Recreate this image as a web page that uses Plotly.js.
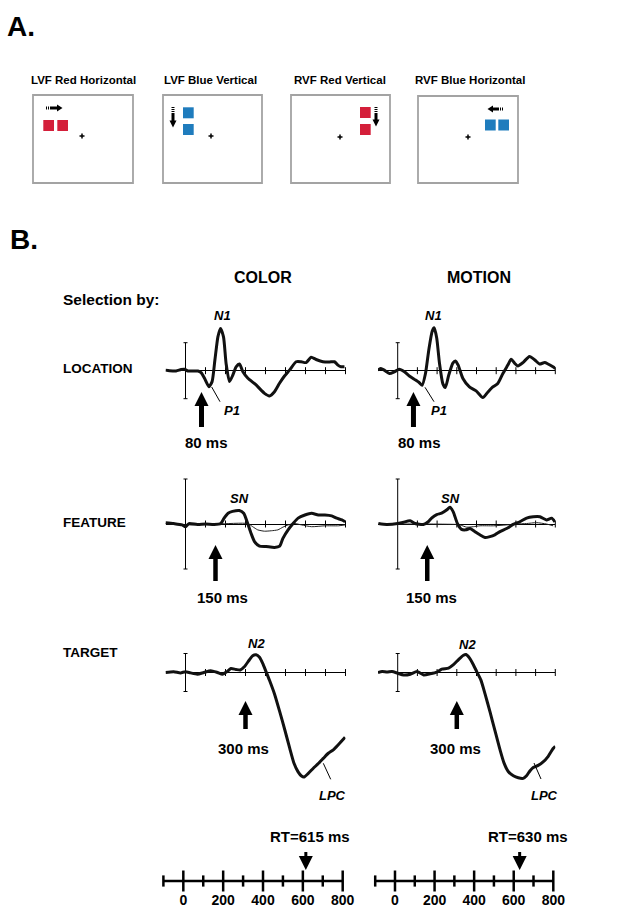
<!DOCTYPE html>
<html><head><meta charset="utf-8">
<script src="https://cdn.plot.ly/plotly-3.0.1.min.js"></script>
<style>html,body{margin:0;padding:0;background:#fff}</style>
</head><body><div id="chart" style="width:634px;height:910px"></div>
<script>
// ================= DATA =================
// ERP waveforms (time in ms, amplitude in calibration-bar units, negative plotted up)
const locColorT = [-100,-80,-47,-22,-5,12,37,62,78,95,117,133,147,162,175,190,203,220,237,253,270,287,312,353,395,420,445,470,495,520,553,578,603,628,653,687,720,745,762,778,795];
const locColorV = [-0.02,0,0.01,-0.04,-0.05,0.01,0.01,0.01,0.07,0.27,0.57,0.39,-0.38,-1.21,-1.51,-1.21,-0.26,0.39,0.15,-0.14,-0.24,0.04,0.27,0.51,0.81,0.90,0.75,0.45,0.19,-0.02,-0.32,-0.32,-0.29,-0.48,-0.40,-0.32,-0.31,-0.32,-0.20,-0.14,-0.14];
const locMotionT = [-100,-85,-68,-42,-17,8,34,59,85,110,124,141,158,175,185,198,212,229,242,259,280,293,307,331,364,398,432,458,483,508,534,559,576,593,610,636,669,695,720,746,763,788,800];
const locMotionV = [-0.02,-0.08,-0.02,0.10,0.04,-0.05,0.04,0.19,0.31,0.43,0.52,0.10,-0.75,-1.41,-1.53,-1.17,-0.27,0.46,0.60,0.16,-0.27,-0.35,-0.20,0.28,0.58,0.72,0.96,0.76,0.58,0.46,0.10,-0.20,-0.41,-0.27,-0.17,-0.29,-0.51,-0.39,-0.24,-0.29,-0.24,-0.14,-0.08];
const featColorT = [-100,-59,-17,0,17,59,101,143,176,193,213,235,269,291,311,328,345,370,403,445,471,487,513,538,563,597,630,664,697,731,756,782,798];
const featColorV = [-0.03,-0.01,0.02,0.06,-0.01,0.01,0,0.01,-0.01,-0.13,-0.24,-0.28,-0.30,-0.24,-0.01,0.21,0.39,0.49,0.50,0.52,0.49,0.32,0.13,-0.01,-0.13,-0.20,-0.24,-0.20,-0.20,-0.18,-0.13,-0.09,-0.05];
const featColorCtrlT = [-100,0,160,311,336,361,395,429,462,487,513,546,580,630,697,765,798];
const featColorCtrlV = [-0.01,0.02,0,-0.01,0.06,0.13,0.16,0.15,0.13,0.07,0.02,-0.01,0.02,0.06,0.04,0.04,0.02];
const featMotionT = [-98,-56,0,29,63,88,130,155,172,198,223,248,265,282,303,324,346,367,392,417,443,468,493,519,553,586,620,654,688,722,755,781,798];
const featMotionV = [-0.01,0.01,-0.01,-0.04,-0.07,-0.01,0.01,-0.05,-0.13,-0.21,-0.24,-0.31,-0.37,-0.27,-0.01,0.12,0.13,0.10,0.17,0.24,0.30,0.28,0.24,0.17,0.10,0.01,-0.05,-0.13,-0.16,-0.16,-0.09,-0.13,-0.05];
const featMotionCtrlT = [-98,0,147,299,316,350,384,417,485,553,603,654,705,755,789];
const featMotionCtrlV = [0,0,0,0.01,0.02,0.07,0.06,0.04,0.04,0.02,0,-0.01,-0.03,0,0.04];
const tgtColorT = [-100,-59,-25,0,25,59,92,126,160,185,207,227,252,274,294,319,336,353,370,386,403,420,445,470,496,521,543,563,580,593,613,638,664,689,714,739,764,798];
const tgtColorV = [0,-0.04,0.02,-0.04,0.02,0.09,0,-0.09,0,0.09,-0.04,-0.21,-0.16,-0.13,-0.30,-0.66,-0.88,-0.93,-0.80,-0.48,-0.04,0.41,1.13,2.02,3.00,3.98,4.79,5.23,5.45,5.50,5.32,5.05,4.79,4.52,4.25,4.07,3.80,3.41];
const tgtMotionT = [-100,-79,-54,-29,0,30,64,98,132,165,199,224,258,283,309,334,347,364,384,401,422,443,469,494,519,540,561,587,612,637,654,671,688,713,738,764,789,800];
const tgtMotionV = [0,-0.05,-0.02,-0.05,0.04,0.13,0.09,-0.05,0.13,0.07,-0.02,-0.18,-0.23,-0.41,-0.68,-0.91,-0.95,-0.77,-0.41,-0.05,0.39,1.11,2.09,3.07,4.05,4.77,5.21,5.43,5.54,5.57,5.43,5.18,5.00,4.89,4.71,4.41,4.00,3.88];

const conditions = ['COLOR', 'MOTION'];
const selections = ['LOCATION', 'FEATURE', 'TARGET'];
const onsetMs = [80, 150, 300];                 // arrow latency per row
const onsetLabels = ['80 ms', '150 ms', '300 ms'];
const calibHalf = [1, 1, 1];                     // calibration bar half-height per row
const erpTicks = [100, 200, 300, 400, 500, 600, 700, 800];
const rtMs = [615, 630];
const rtLabels = ['RT=615 ms', 'RT=630 ms'];
const timeMajor = [0, 200, 400, 600, 800];
const timeMinor = [-100, 100, 300, 500, 700];
const timeRange = [-100, 800];
const stimLabels = ['LVF Red Horizontal', 'LVF Blue Vertical', 'RVF Red Vertical', 'RVF Blue Horizontal'];

// ================= LAYOUT HELPERS =================
const W = 634, H = 910;
const fx = p => p / W, fy = p => 1 - p / H;
const FONT = 'Liberation Sans, Arial, Helvetica, sans-serif';
const RED = '#d41f3a', BLUE = '#1f7cbd';

const waves = [
  [{t: locColorT, v: locColorV}, {t: locMotionT, v: locMotionV}],
  [{t: featColorT, v: featColorV, ct: featColorCtrlT, cv: featColorCtrlV},
   {t: featMotionT, v: featMotionV, ct: featMotionCtrlT, cv: featMotionCtrlV}],
  [{t: tgtColorT, v: tgtColorV}, {t: tgtMotionT, v: tgtMotionV}]
];

// pixel geometry
const cols = [{x0: 165.5, x1: 345.5}, {x0: 378, x1: 555.3}];
const rows = [
  {zero: 370.7, ppu: 28, top: 318, bot: 432, tip: 392, bottom: 427, shaft: 5},
  {zero: 524,   ppu: 45, top: 474, bot: 586, tip: 545, bottom: 581, shaft: 4.5},
  {zero: 672.5, ppu: 19, top: 636, bot: 792, tip: 701, bottom: 729, shaft: 4.5}
];
const axCols = [{x0: 163.4, x1: 342.7}, {x0: 375.2, x1: 553.3}];
const axBox = {top: 845, bot: 890, zero: 881};

const traces = [];
const layout = {
  width: W, height: H, margin: {l: 0, r: 0, t: 0, b: 0},
  paper_bgcolor: '#fff', plot_bgcolor: 'rgba(0,0,0,0)',
  showlegend: false, hovermode: false,
  annotations: [], shapes: []
};
const sfx = k => (k === 1 ? '' : String(k));

rows.forEach((row, r) => {
  cols.forEach((col, c) => {
    const k = r * 2 + c + 1, s = sfx(k);
    const pv = p => (p - row.zero) / row.ppu;   // pixel -> value
    layout['xaxis' + s] = {domain: [fx(col.x0), fx(col.x1)], range: timeRange.slice(), anchor: 'y' + s,
      showgrid: false, zeroline: false, showticklabels: false, ticks: '', showline: false, fixedrange: true};
    layout['yaxis' + s] = {domain: [fy(row.bot), fy(row.top)], range: [pv(row.bot), pv(row.top)], anchor: 'x' + s,
      showgrid: false, zeroline: true, zerolinecolor: '#000', zerolinewidth: 1,
      showticklabels: false, ticks: '', showline: false, fixedrange: true};
    const ax = {xaxis: 'x' + s, yaxis: 'y' + s, cliponaxis: false};
    // ticks on baseline
    traces.push(Object.assign({x: erpTicks, y: erpTicks.map(() => 0), mode: 'markers',
      marker: {symbol: 'line-ns-open', size: 5, color: '#000', line: {width: 1, color: '#000'}}}, ax));
    // calibration bar
    traces.push(Object.assign({x: [0], y: [0], mode: 'markers', marker: {size: 1, color: 'rgba(0,0,0,0)'},
      error_y: {type: 'data', array: [calibHalf[r]], visible: true, color: '#000', thickness: 1, width: 2}}, ax));
    const w = waves[r][c];
    if (w.ct) traces.push(Object.assign({x: w.ct, y: w.cv, mode: 'lines',
      line: {color: '#222', width: 1, shape: 'spline', smoothing: 0.6}}, ax));
    traces.push(Object.assign({x: w.t, y: w.v, mode: 'lines',
      line: {color: '#111', width: 3, shape: 'spline', smoothing: 0.6}}, ax));
    // onset arrow
    traces.push(Object.assign({x: [onsetMs[r], onsetMs[r]], y: [pv(row.tip + 10), pv(row.bottom)], mode: 'lines',
      line: {color: '#000', width: row.shaft}}, ax));
    traces.push(Object.assign({x: [onsetMs[r]], y: [pv(row.tip)], mode: 'markers',
      marker: {symbol: 'arrow-up', size: 14, color: '#000', line: {width: 0}}}, ax));
  });
});

// bottom time axes
axCols.forEach((col, c) => {
  const k = 7 + c, s = sfx(k);
  layout['xaxis' + s] = {domain: [fx(col.x0), fx(col.x1)], range: timeRange.slice(), anchor: 'y' + s,
    showgrid: false, zeroline: false, showline: false, ticks: '',
    tickvals: timeMajor, ticktext: timeMajor.map(v => '<b>' + v + '</b>'),
    tickfont: {family: FONT, size: 14, color: '#000'}, ticklabelstandoff: 0, fixedrange: true};
  layout['yaxis' + s] = {domain: [fy(axBox.bot), fy(axBox.top)], range: [axBox.zero - axBox.bot, axBox.zero - axBox.top],
    anchor: 'x' + s, visible: false, fixedrange: true};
  const ax = {xaxis: 'x' + s, yaxis: 'y' + s, cliponaxis: false};
  traces.push(Object.assign({x: timeRange.slice(), y: [0, 0], mode: 'lines', line: {color: '#000', width: 2.5}}, ax));
  traces.push(Object.assign({x: timeMajor, y: timeMajor.map(() => 0), mode: 'markers',
    marker: {symbol: 'line-ns-open', size: 15, color: '#000', line: {width: 2.5, color: '#000'}}}, ax));
  traces.push(Object.assign({x: timeMinor, y: timeMinor.map(() => 0), mode: 'markers',
    marker: {symbol: 'line-ns-open', size: 8, color: '#000', line: {width: 2.5, color: '#000'}}}, ax));
  traces.push(Object.assign({x: [rtMs[c], rtMs[c]], y: [22, 29], mode: 'lines', line: {color: '#000', width: 3}}, ax));
  traces.push(Object.assign({x: [rtMs[c]], y: [11], mode: 'markers',
    marker: {symbol: 'arrow-down', size: 14, color: '#000', line: {width: 0}}}, ax));
});

// ================= TEXT =================
function T(x, y, text, size, o) {
  return Object.assign({xref: 'paper', yref: 'paper', x: fx(x), y: fy(y), text: text, showarrow: false,
    xanchor: 'center', yanchor: 'middle', font: {family: FONT, size: size, color: '#000'}}, o || {});
}
const A = layout.annotations, S = layout.shapes;
A.push(T(21, 26, '<b>A.</b>', 28));
A.push(T(24, 240, '<b>B.</b>', 28));
const stimX = [83.3, 210, 339.7, 469.7];
stimLabels.forEach((l, i) => A.push(T(stimX[i], 80, '<b>' + l + '</b>', 11.5)));
const condX = [263.4, 479];
conditions.forEach((l, i) => A.push(T(condX[i], 277, '<b>' + l + '</b>', 16)));
A.push(T(61, 300, '<b>Selection by:</b>', 15.5, {xanchor: 'left'}));
const selY = [368.5, 522, 652];
selections.forEach((l, i) => A.push(T(61, selY[i], '<b>' + l + '</b>', 13.5, {xanchor: 'left'})));
// onset labels
const onsetTextX = [[206, 419], [222.5, 431.7], [243.7, 455]];
const onsetTextY = [442, 597, 748];
onsetLabels.forEach((l, r) => [0, 1].forEach(c => A.push(T(onsetTextX[r][c], onsetTextY[r], '<b>' + l + '</b>', 15))));
// component labels
const comp = [
  ['N1', 222, 315], ['N1', 433.7, 315], ['P1', 231.5, 411], ['P1', 439, 411],
  ['SN', 239.7, 498], ['SN', 450.3, 498.5], ['N2', 256.7, 643], ['N2', 467.5, 644],
  ['LPC', 332, 795], ['LPC', 544, 795]
];
comp.forEach(([l, x, y]) => A.push(T(x, y, '<b><i>' + l + '</i></b>', 13)));
rtLabels.forEach((l, c) => A.push(T([310, 528][c], 836, '<b>' + l + '</b>', 15)));

// leader lines
function L(x0, y0, x1, y1, w, col, extra) {
  return Object.assign({type: 'line', xref: 'paper', yref: 'paper', x0: fx(x0), y0: fy(y0), x1: fx(x1), y1: fy(y1),
    line: {color: col || '#000', width: w || 1}}, extra || {});
}
S.push(L(211.7, 387, 220, 401.7)); S.push(L(425, 387.3, 434, 401.7));
S.push(L(323.3, 763.3, 330.7, 779.3)); S.push(L(534, 763, 541, 779));

// ================= PANEL A stimuli =================
const boxes = [[33, 95, 133, 183], [163, 95, 262, 183], [291, 95, 390, 183], [418, 96, 518, 183]];
boxes.forEach(b => S.push({type: 'rect', xref: 'paper', yref: 'paper', x0: fx(b[0]), x1: fx(b[2]), y0: fy(b[3]), y1: fy(b[1]),
  line: {color: '#a3a3a3', width: 1.8}, fillcolor: 'rgba(0,0,0,0)'}));
const squares = [
  [43.3, 120, RED], [57.3, 120, RED],
  [183, 107.3, BLUE], [183, 124, BLUE],
  [360, 107, RED], [360, 124, RED],
  [485, 119.5, BLUE], [498.3, 119.5, BLUE]
];
squares.forEach(([x, y, col]) => S.push({type: 'rect', xref: 'paper', yref: 'paper', x0: fx(x), x1: fx(x + 10.7), y0: fy(y + 11), y1: fy(y),
  line: {width: 0}, fillcolor: col}));
const crosses = [[82, 136], [211, 136], [340, 137], [468, 137]];
crosses.forEach(([x, y]) => { S.push(L(x - 2.5, y, x + 2.5, y, 1.5)); S.push(L(x, y - 2.5, x, y + 2.5, 1.5)); });
function P(pts) {
  return {type: 'path', xref: 'paper', yref: 'paper', line: {width: 0}, fillcolor: '#000',
    path: 'M' + pts.map(p => fx(p[0]) + ',' + fy(p[1])).join('L') + 'Z'};
}
// right arrow (box 1)
S.push(L(46, 108, 51, 108, 3, '#000', {line: {color: '#000', width: 3, dash: '1px,1px'}}));
S.push(L(51, 108, 57.5, 108, 3));
S.push(P([[57, 104.5], [62.5, 108], [57, 111.5]]));
// down arrow (box 2)
S.push(L(173, 107, 173, 113, 3, '#000', {line: {color: '#000', width: 3, dash: '1px,1px'}}));
S.push(L(173, 113, 173, 121, 3));
S.push(P([[169.5, 120.5], [176.5, 120.5], [173, 127.5]]));
// down arrow (box 3)
S.push(L(376, 107, 376, 113, 3, '#000', {line: {color: '#000', width: 3, dash: '1px,1px'}}));
S.push(L(376, 113, 376, 120, 3));
S.push(P([[372.5, 119.5], [379.5, 119.5], [376, 126.5]]));
// left arrow (box 4)
S.push(L(498, 109, 503.5, 109, 3, '#000', {line: {color: '#000', width: 3, dash: '1px,1px'}}));
S.push(L(492.5, 109, 498, 109, 3));
S.push(P([[493, 105.5], [487.5, 109], [493, 112.5]]));

Plotly.newPlot('chart', traces, layout, {staticPlot: true, displayModeBar: false});
</script></body></html>
